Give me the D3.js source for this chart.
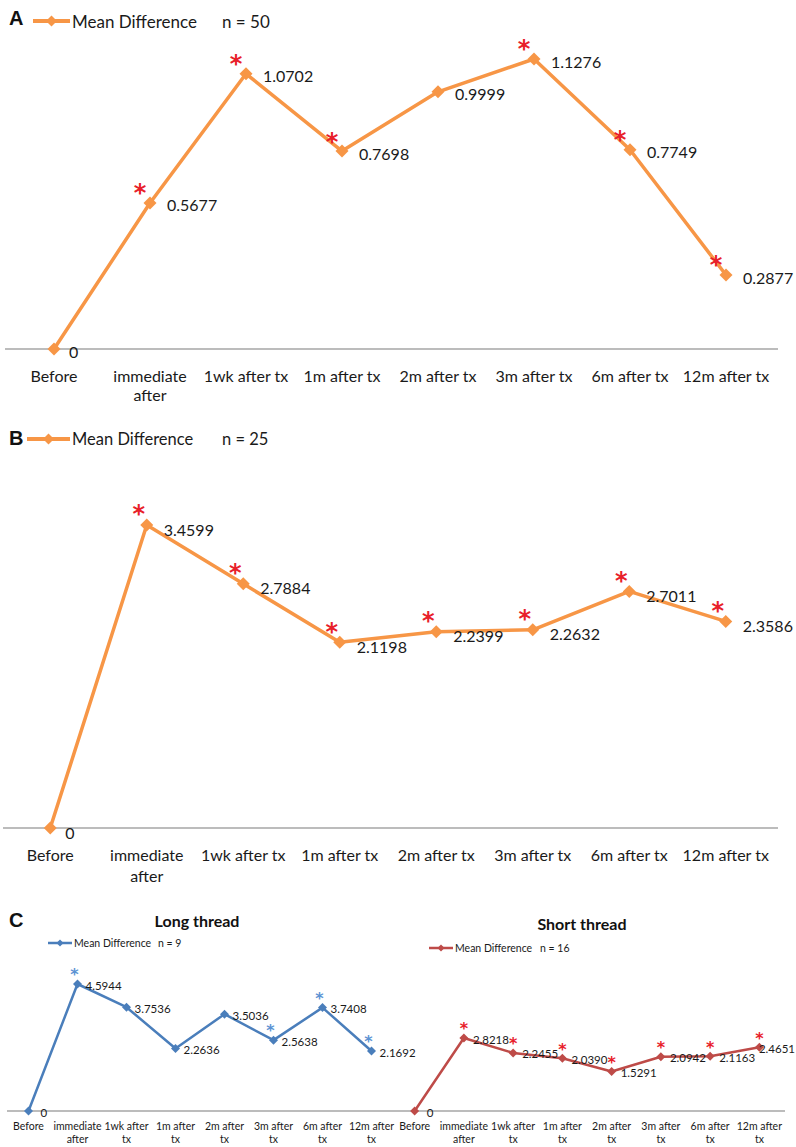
<!DOCTYPE html>
<html><head><meta charset="utf-8">
<script src="https://cdn.jsdelivr.net/npm/d3@7"></script>
<style>html,body{margin:0;padding:0;background:#fff}svg{display:block}</style>
</head><body>
<svg id="chart" width="796" height="1147"></svg>
<script>
// ---------- DATA ----------
const categories = ["Before","immediate after","1wk after tx","1m after tx","2m after tx","3m after tx","6m after tx","12m after tx"];
const tickLabelsWide = [["Before"],["immediate","after"],["1wk after tx"],["1m after tx"],["2m after tx"],["3m after tx"],["6m after tx"],["12m after tx"]];
const tickLabelsNarrow = [["Before"],["immediate","after"],["1wk after","tx"],["1m after","tx"],["2m after","tx"],["3m after","tx"],["6m after","tx"],["12m after","tx"]];
const valuesA = [0, 0.5677, 1.0702, 0.7698, 0.9999, 1.1276, 0.7749, 0.2877];
const labelsA = ["0","0.5677","1.0702","0.7698","0.9999","1.1276","0.7749","0.2877"];
const starsA = [false, true, true, true, false, true, true, true];
const valuesB = [0, 3.4599, 2.7884, 2.1198, 2.2399, 2.2632, 2.7011, 2.3586];
const labelsB = ["0","3.4599","2.7884","2.1198","2.2399","2.2632","2.7011","2.3586"];
const starsB = [false, true, true, true, true, true, true, true];
const valuesLong = [0, 4.5944, 3.7536, 2.2636, 3.5036, 2.5638, 3.7408, 2.1692];
const labelsLong = ["0","4.5944","3.7536","2.2636","3.5036","2.5638","3.7408","2.1692"];
const starsLong = [false, true, false, false, false, true, true, true];
const valuesShort = [0, 2.8218, 2.2455, 2.0390, 1.5291, 2.0942, 2.1163, 2.4651];
const labelsShort = ["0","2.8218","2.2455","2.0390","1.5291","2.0942","2.1163","2.4651"];
const starsShort = [false, true, true, true, true, true, true, true];

// ---------- DRAW ----------
const svg = d3.select("#chart");
const FONT = "Lato, 'Open Sans', sans-serif";
const W = 796;

function diamond(g, x, y, r, color){
  g.append("path").attr("d", `M${x},${y-r}L${x+r},${y}L${x},${y+r}L${x-r},${y}Z`).attr("fill", color);
}

function panel(o){
  const g = svg.append("g");
  const x = d3.scaleBand().domain(categories).range(o.xr).paddingInner(0).paddingOuter(0);
  const y = d3.scaleLinear().domain([0, o.ymax]).range([o.y0, o.ytop]);
  const cx = c => x(c) + x.bandwidth()/2;

  // axis line
  g.append("line").attr("x1", o.axisX[0]).attr("x2", o.axisX[1])
    .attr("y1", y(0)).attr("y2", y(0)).attr("stroke", "#a6a6a6").attr("stroke-width", 1.5);

  // tick labels
  categories.forEach((c, i) => {
    const t = g.append("text").attr("x", cx(c)).attr("y", o.tickY)
      .attr("text-anchor", "middle").attr("font-family", FONT)
      .attr("font-size", o.tickFs).attr("fill", "#1a1a1a");
    o.ticks[i].forEach((line, j) => {
      t.append("tspan").attr("x", cx(c)).attr("dy", j === 0 ? 0 : o.tickLh).text(line);
    });
  });

  // line
  const line = d3.line().x((d, i) => cx(categories[i])).y(d => y(d));
  g.append("path").datum(o.values).attr("d", line).attr("fill", "none")
    .attr("stroke", o.color).attr("stroke-width", o.lw).attr("stroke-linejoin", "round");
  o.values.forEach((v, i) => diamond(g, cx(categories[i]), y(v), o.mr, o.color));

  // value labels
  o.values.forEach((v, i) => {
    const dx = i === 0 ? o.zeroDx : o.labDx;
    const t = g.append("text").attr("x", cx(categories[i]) + dx).attr("y", y(v) + o.labDy)
      .attr("dominant-baseline", "central").attr("font-family", FONT)
      .attr("font-size", o.labFs).attr("fill", "#1a1a1a").text(o.labels[i]);
    const w = t.node().getComputedTextLength();
    const x0 = +t.attr("x");
    if (x0 + w > W - 1) t.attr("x", W - 1 - w);
  });

  // significance stars
  o.stars.forEach((s, i) => {
    if (!s) return;
    g.append("text").attr("x", cx(categories[i]) + o.starDx)
      .attr("y", y(o.values[i]) + o.starDy + 0.52 * o.starFs)
      .attr("text-anchor", "middle").attr("font-family", "'DejaVu Sans', sans-serif")
      .attr("font-weight", "bold")
      .attr("font-size", o.starFs).attr("fill", o.starColor).text("*");
  });

  // legend
  const L = o.legend;
  g.append("line").attr("x1", L.x1).attr("x2", L.x2).attr("y1", L.y).attr("y2", L.y)
    .attr("stroke", o.color).attr("stroke-width", L.lw);
  diamond(g, (L.x1 + L.x2)/2, L.y, L.mr, o.color);
  g.append("text").attr("x", L.x2 + 2).attr("y", L.y).attr("dominant-baseline", "central")
    .attr("font-family", FONT).attr("font-size", L.fs).attr("fill", "#1a1a1a").text("Mean Difference");
  g.append("text").attr("x", L.nx).attr("y", L.y).attr("dominant-baseline", "central")
    .attr("font-family", FONT).attr("font-size", L.fs).attr("fill", "#1a1a1a").text(L.n);

  if (o.title) {
    g.append("text").attr("x", o.title.x).attr("y", o.title.y).attr("text-anchor", "middle")
      .attr("dominant-baseline", "central").attr("font-family", FONT).attr("font-weight", "bold")
      .attr("font-size", 16).attr("fill", "#111").text(o.title.text);
  }
}

function letter(t, x, y){
  svg.append("text").attr("x", x).attr("y", y).attr("font-family", "'Liberation Sans', Arial, sans-serif")
    .attr("font-weight", "bold").attr("font-size", 20).attr("fill", "#111").text(t);
}

letter("A", 9, 25);
panel({xr:[6,774], axisX:[5,778], y0:349, ytop:59, ymax:1.1276, values:valuesA, labels:labelsA, stars:starsA,
  color:"#F79646", lw:3.5, mr:6.5, ticks:tickLabelsWide, tickY:382, tickLh:19, tickFs:16,
  labFs:16, labDx:17, labDy:2, zeroDx:15, starDx:-10, starDy:-14, starFs:24, starColor:"#E8202A",
  legend:{x1:33, x2:70, y:21, lw:4, mr:5.5, fs:17, nx:222, n:"n = 50"}});

letter("B", 9, 445);
panel({xr:[2,774], axisX:[3,778], y0:828, ytop:525, ymax:3.4599, values:valuesB, labels:labelsB, stars:starsB,
  color:"#F79646", lw:3.5, mr:6.5, ticks:tickLabelsWide, tickY:861, tickLh:21, tickFs:16,
  labFs:16, labDx:17, labDy:4, zeroDx:15, starDx:-8, starDy:-15, starFs:24, starColor:"#E8202A",
  legend:{x1:27, x2:70, y:439, lw:4, mr:5.5, fs:16.5, nx:222, n:"n = 25"}});

letter("C", 9, 927);
panel({xr:[4,396], axisX:[7,396], y0:1111, ytop:984, ymax:4.5944, values:valuesLong, labels:labelsLong, stars:starsLong,
  color:"#4A7EBB", lw:2.5, mr:4.5, ticks:tickLabelsNarrow, tickY:1130, tickLh:13, tickFs:10.5,
  labFs:11.5, labDx:8, labDy:1, zeroDx:12, starDx:-3, starDy:-12, starFs:16, starColor:"#5B93D3",
  legend:{x1:48, x2:72, y:943, lw:2.5, mr:3.5, fs:10.5, nx:158, n:"n = 9"},
  title:{x:197, y:920, text:"Long thread"}});

panel({xr:[390,784], axisX:[396,785], y0:1111, ytop:1038, ymax:2.8218, values:valuesShort, labels:labelsShort, stars:starsShort,
  color:"#BE4B48", lw:2.5, mr:4.5, ticks:tickLabelsNarrow, tickY:1130, tickLh:13, tickFs:10.5,
  labFs:11.5, labDx:9, labDy:1, zeroDx:12, starDx:0, starDy:-12, starFs:16, starColor:"#E8202A",
  legend:{x1:429, x2:453, y:948, lw:2.5, mr:3.5, fs:10.5, nx:540, n:"n = 16"},
  title:{x:582, y:923, text:"Short thread"}});
</script>
</body></html>
